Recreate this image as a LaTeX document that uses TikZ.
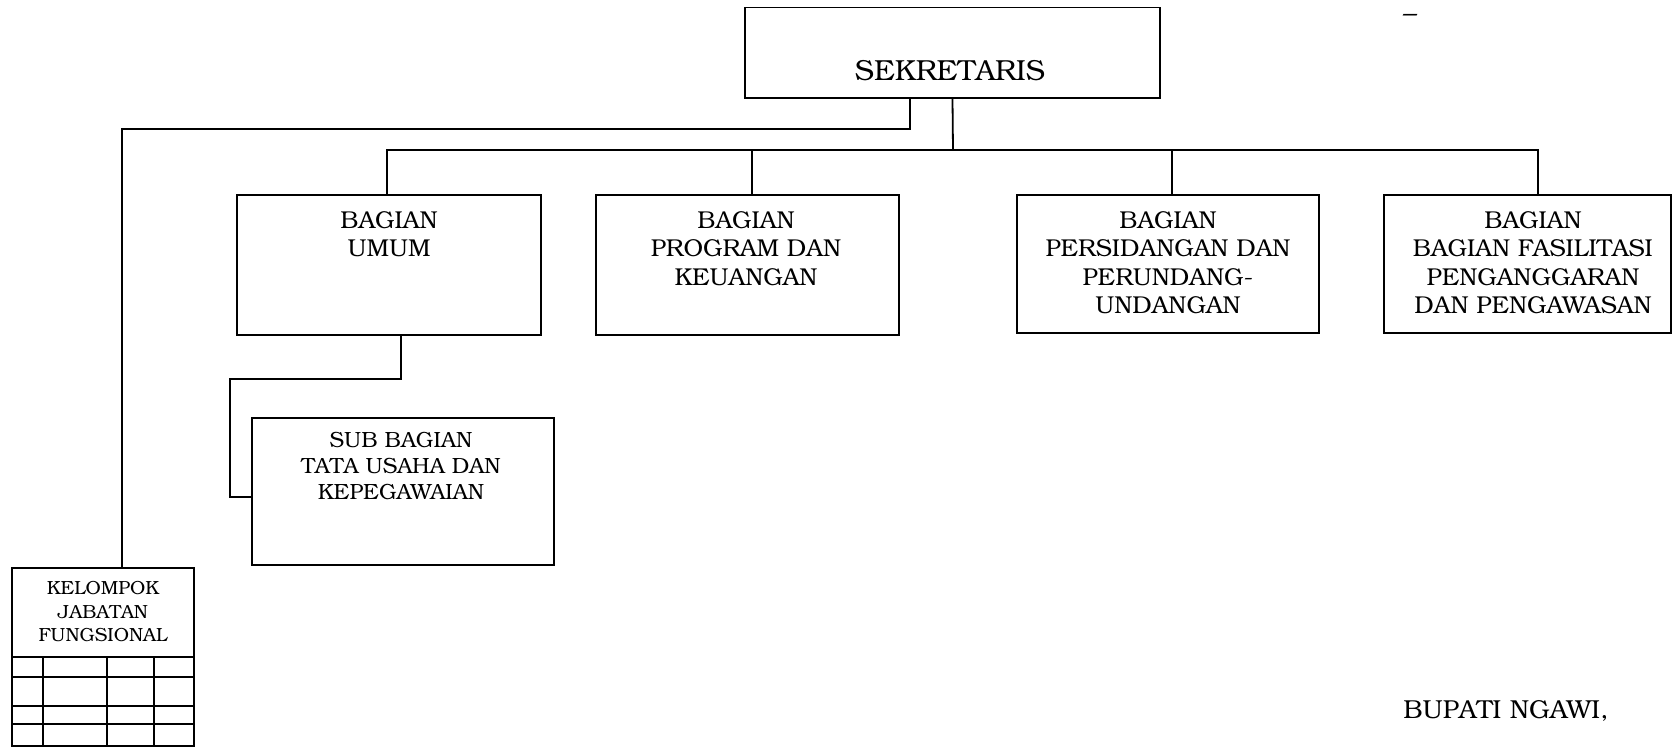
\documentclass[tikz,border=0pt]{standalone}
\usepackage[T1]{fontenc}
\usepackage{bookman}
\usetikzlibrary{calc}
\tikzset{
	unitbox/.style={draw, line width=0.9pt, inner sep=0pt},
	boxtext/.style={anchor=north, inner sep=0pt, align=center, font=\fontsize{12.2}{14.2}\selectfont},
	link/.style={line width=0.9pt},
}

\begin{document}
\begin{tikzpicture}[x=0.5pt, y=-0.5pt]
		\useasboundingbox (0,0) rectangle (1672,746);
		%%%%% START %%%%%
		
		\node[unitbox, minimum width=207.5pt, minimum height=45.25pt] (sek) at (952.5, 52.75) {};
		\node[inner sep=0pt, font=\fontsize{14.5}{16}\selectfont] (sektext) at (950, 71) {SEKRETARIS};
		
		\node[unitbox, minimum width=152pt, minimum height=70pt] (umum) at (389, 265) {};
		\node[unitbox, minimum width=151.5pt, minimum height=70pt] (prog) at (747.5, 265) {};
		\node[unitbox, minimum width=151pt, minimum height=69pt] (sid) at (1168, 264) {};
		\node[unitbox, minimum width=143.5pt, minimum height=69pt] (fas) at (1527.5, 264) {};
		\node[unitbox, minimum width=151pt, minimum height=73.5pt] (sub) at (403, 491.5) {};
		\node[unitbox, minimum width=91pt, minimum height=89pt] (kjf) at (103, 657) {};
		
		\node[boxtext] (umumtext) at (389, 211) {BAGIAN\\UMUM};
		\node[boxtext] (progtext) at (746, 211) {BAGIAN\\PROGRAM DAN\\KEUANGAN};
		\node[boxtext] (sidtext) at (1168, 211) {BAGIAN\\PERSIDANGAN DAN\\PERUNDANG-\\UNDANGAN};
		\node[boxtext] (fastext) at (1533, 211) {BAGIAN\\BAGIAN FASILITASI\\PENGANGGARAN\\DAN PENGAWASAN};
		\node[boxtext, font=\fontsize{11}{13}\selectfont] (subtext) at (401, 432) {SUB BAGIAN\\TATA USAHA DAN\\KEPEGAWAIAN};
		\node[boxtext, font=\fontsize{9.5}{11.7}\selectfont] (kjftext) at (103, 581) {KELOMPOK\\JABATAN\\FUNGSIONAL};
		
		% bus below the secretary
		\coordinate (bus) at (953, 150);
		\draw[link] (sek.south) -- (bus);
		\foreach \n/\dx in {umum/-1, prog/2.25, sid/2, fas/5.25}
			\draw[link] (bus) -| ([xshift=\dx pt]\n.north);
		
		% functional group line
		\coordinate (kink) at (122, 129);
		\draw[link] ([xshift=-21.25pt]sek.south) |- (kink) -- (kink |- kjf.north);
		
		% sub section line
		\coordinate (subkink) at (230, 379);
		\draw[link] ([xshift=6pt]umum.south) |- (subkink) |- ([yshift=-2.75pt]sub.west);
		
		% grid under the functional group
		\foreach \y in {657, 677, 706, 724}
			\draw[link] (12, \y) -- (194, \y);
		\foreach \x in {43, 107, 154}
			\draw[link] (\x, 657) -- (\x, 746);
		
		\node[inner sep=0pt, font=\fontsize{14}{16}\selectfont] (dash) at (1410, 18) {--};
		\node[anchor=base west, inner sep=0pt, font=\fontsize{13}{15}\selectfont] (bupati) at (1403, 718) {BUPATI NGAWI,};
		
		%%%%% END %%%%%
\end{tikzpicture}
\end{document}
